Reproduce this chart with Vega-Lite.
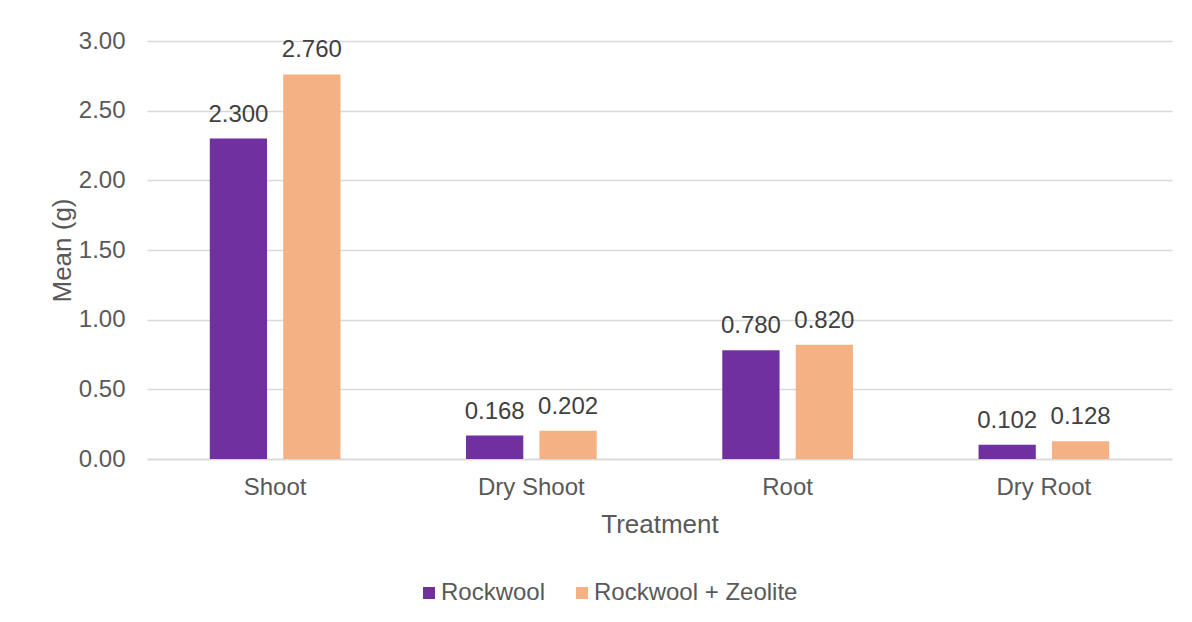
{
  "$schema": "https://vega.github.io/schema/vega-lite/v6.json",
  "width": 1025,
  "height": 418,
  "autosize": "none",
  "padding": {"left": 147, "top": 41, "right": 20, "bottom": 163},
  "background": "white",
  "config": {
    "font": "Liberation Sans",
    "view": {"stroke": null},
    "axis": {
      "labelFont": "Liberation Sans",
      "titleFont": "Liberation Sans",
      "labelColor": "#595959",
      "titleColor": "#595959",
      "labelFontSize": 24,
      "titleFontSize": 26,
      "titleFontWeight": "normal",
      "gridColor": "#d9d9d9",
      "gridWidth": 1.5,
      "ticks": false
    }
  },
  "data": {
    "values": [
      {"treatment": "Shoot", "medium": "Rockwool", "mean": 2.300},
      {"treatment": "Shoot", "medium": "Rockwool + Zeolite", "mean": 2.760},
      {"treatment": "Dry Shoot", "medium": "Rockwool", "mean": 0.168},
      {"treatment": "Dry Shoot", "medium": "Rockwool + Zeolite", "mean": 0.202},
      {"treatment": "Root", "medium": "Rockwool", "mean": 0.780},
      {"treatment": "Root", "medium": "Rockwool + Zeolite", "mean": 0.820},
      {"treatment": "Dry Root", "medium": "Rockwool", "mean": 0.102},
      {"treatment": "Dry Root", "medium": "Rockwool + Zeolite", "mean": 0.128}
    ]
  },
  "encoding": {
    "x": {
      "field": "treatment",
      "type": "nominal",
      "sort": ["Shoot", "Dry Shoot", "Root", "Dry Root"],
      "scale": {"paddingInner": 0.49, "paddingOuter": 0.245},
      "axis": {
        "title": "Treatment",
        "labelAngle": 0,
        "labelPadding": 16,
        "titlePadding": 12,
        "domainColor": "#d9d9d9",
        "domainWidth": 1.5,
        "grid": false
      }
    },
    "xOffset": {
      "field": "medium",
      "type": "nominal",
      "sort": ["Rockwool", "Rockwool + Zeolite"],
      "scale": {"paddingInner": 0.22}
    },
    "y": {
      "field": "mean",
      "type": "quantitative",
      "scale": {"domain": [0, 3], "nice": false, "zero": true},
      "axis": {
        "title": "Mean (g)",
        "values": [0, 0.5, 1, 1.5, 2, 2.5, 3],
        "format": ".2f",
        "domain": false,
        "labelPadding": 22,
        "titlePadding": 3
      }
    }
  },
  "layer": [
    {
      "mark": {"type": "bar"},
      "encoding": {
        "color": {
          "field": "medium",
          "type": "nominal",
          "scale": {
            "domain": ["Rockwool", "Rockwool + Zeolite"],
            "range": ["#7030A0", "#F4B183"]
          },
          "legend": {
            "title": null,
            "orient": "none",
            "direction": "horizontal",
            "legendX": 270,
            "legendY": 540,
            "symbolType": "square",
            "symbolSize": 144,
            "symbolStrokeWidth": 0,
            "labelFont": "Liberation Sans",
            "labelFontSize": 24,
            "labelColor": "#595959",
            "labelOffset": 0,
            "labelLimit": 0,
            "columnPadding": 24
          }
        }
      }
    },
    {
      "mark": {
        "type": "text",
        "baseline": "alphabetic",
        "dy": -17,
        "fontSize": 24,
        "font": "Liberation Sans",
        "color": "#404040"
      },
      "encoding": {
        "text": {"field": "mean", "type": "quantitative", "format": ".3f"}
      }
    }
  ]
}
